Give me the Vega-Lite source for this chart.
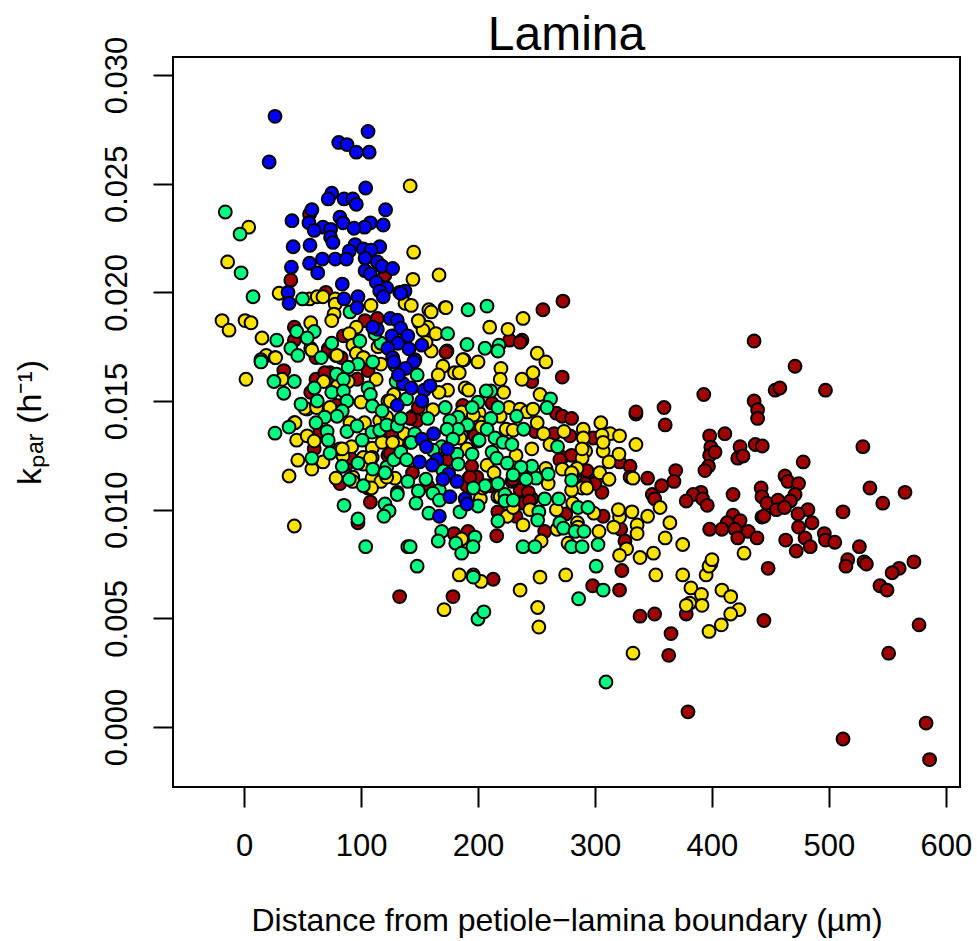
{"$schema":"https://vega.github.io/schema/vega-lite/v6.json","autosize":{"type":"none"},"width":787,"height":730,"padding":{"left":173,"top":57,"right":17,"bottom":154},"background":"white","title":{"text":"Lamina","font":"Liberation Sans","fontSize":48,"fontWeight":"normal","color":"black","anchor":"middle","offset":-24},"config":{"view":{"stroke":"black","strokeWidth":2}},"datasets":{"pts":[
{"s":"r","x":436,"y":0.01776},{"s":"r","x":471,"y":0.0166},{"s":"r","x":497,"y":0.0155},{"s":"r","x":454,"y":0.0155},{"s":"r","x":458,"y":0.0156},{"s":"r","x":393,"y":0.0153},{"s":"r","x":359,"y":0.0147},{"s":"r","x":335,"y":0.0144},{"s":"r","x":436,"y":0.015},{"s":"r","x":439,"y":0.0146},{"s":"r","x":439,"y":0.0142},{"s":"r","x":360,"y":0.0139},{"s":"r","x":398,"y":0.0134},{"s":"r","x":411,"y":0.0135},{"s":"r","x":437,"y":0.013},{"s":"r","x":443,"y":0.01293},{"s":"r","x":424,"y":0.0129},{"s":"r","x":529,"y":0.0129},{"s":"r","x":399,"y":0.01288},{"s":"r","x":422,"y":0.01237},{"s":"r","x":426.5,"y":0.01247},{"s":"r","x":398,"y":0.0125},{"s":"r","x":402.6,"y":0.01265},{"s":"r","x":478,"y":0.0122},{"s":"r","x":397,"y":0.012},{"s":"r","x":394,"y":0.0118},{"s":"r","x":369,"y":0.0118},{"s":"r","x":462.4,"y":0.01155},{"s":"r","x":465,"y":0.0113},{"s":"r","x":367.5,"y":0.0113},{"s":"r","x":357,"y":0.0111},{"s":"r","x":345,"y":0.01145},{"s":"r","x":474,"y":0.0112},{"s":"r","x":442,"y":0.011},{"s":"r","x":535,"y":0.011},{"s":"r","x":442.7,"y":0.0106},{"s":"r","x":565,"y":0.0108},{"s":"r","x":471,"y":0.0107},{"s":"r","x":467,"y":0.0104},{"s":"r","x":418,"y":0.0107},{"s":"r","x":390.6,"y":0.0108},{"s":"r","x":384,"y":0.0107},{"s":"r","x":392,"y":0.0105},{"s":"r","x":378,"y":0.0104},{"s":"r","x":396,"y":0.0102},{"s":"r","x":349,"y":0.0107},{"s":"r","x":351,"y":0.0105},{"s":"r","x":447,"y":0.0103},{"s":"r","x":456.4,"y":0.01044},{"s":"r","x":455,"y":0.01},{"s":"r","x":462,"y":0.0101},{"s":"r","x":546,"y":0.0103},{"s":"r","x":482,"y":0.01},{"s":"r","x":473.5,"y":0.0098},{"s":"r","x":512,"y":0.0099},{"s":"r","x":442.7,"y":0.00966},{"s":"r","x":444.4,"y":0.0097},{"s":"r","x":418,"y":0.00975},{"s":"r","x":424,"y":0.0095},{"s":"r","x":413,"y":0.0094},{"s":"r","x":398,"y":0.0091},{"s":"r","x":408.5,"y":0.0091},{"s":"r","x":419.7,"y":0.0091},{"s":"r","x":431,"y":0.009},{"s":"r","x":422,"y":0.0087},{"s":"r","x":438.5,"y":0.0087},{"s":"r","x":463,"y":0.0086},{"s":"r","x":474,"y":0.0092},{"s":"r","x":485.5,"y":0.0094},{"s":"r","x":479.5,"y":0.0087},{"s":"r","x":484,"y":0.0083},{"s":"r","x":472,"y":0.0081},{"s":"r","x":496,"y":0.0089},{"s":"r","x":497,"y":0.0086},{"s":"r","x":505,"y":0.0085},{"s":"r","x":526,"y":0.0083},{"s":"r","x":516,"y":0.0077},{"s":"r","x":514.5,"y":0.0074},{"s":"r","x":530,"y":0.0076},{"s":"r","x":532,"y":0.0075},{"s":"r","x":560,"y":0.0073},{"s":"r","x":554,"y":0.0071},{"s":"r","x":543.6,"y":0.0065},{"s":"r","x":549.6,"y":0.0063},{"s":"r","x":572.6,"y":0.0076},{"s":"r","x":448,"y":0.0073},{"s":"r","x":399,"y":0.0075},{"s":"r","x":444.4,"y":0.0049},{"s":"r","x":577,"y":0.0047},{"s":"r","x":551,"y":0.0034},{"s":"r","x":363,"y":0.0033},{"s":"r","x":365,"y":0.0043},{"s":"r","x":378,"y":0.0052},{"s":"r","x":338.5,"y":0.0051},{"s":"r","x":351,"y":0.0052},{"s":"r","x":379.5,"y":0.0007},{"s":"r","x":512,"y":-0.00055},{"s":"r","x":583,"y":0.00018},{"s":"r","x":586,"y":-0.0015},{"s":"r","x":298,"y":0.0065},{"s":"r","x":321,"y":0.0063},{"s":"r","x":323,"y":0.0072},{"s":"r","x":133,"y":0.006},{"s":"r","x":178.6,"y":0.006},{"s":"r","x":213,"y":0.0068},{"s":"r","x":255.5,"y":0.0192},{"s":"r","x":272.6,"y":0.0196},{"s":"r","x":272,"y":0.0161},{"s":"r","x":237.6,"y":0.0178},{"s":"r","x":227,"y":0.0178},{"s":"r","x":236,"y":0.0177},{"s":"r","x":246,"y":0.0159},{"s":"r","x":173.5,"y":0.0173},{"s":"r","x":335,"y":0.0145},{"s":"r","x":267,"y":0.01444},{"s":"r","x":272,"y":0.0143},{"s":"r","x":280,"y":0.0142},{"s":"r","x":249,"y":0.0136},{"s":"r","x":265,"y":0.0135},{"s":"r","x":298.5,"y":0.0133},{"s":"r","x":278.6,"y":0.0134},{"s":"r","x":272,"y":0.0124},{"s":"r","x":280,"y":0.0125},{"s":"r","x":321,"y":0.0122},{"s":"r","x":330,"y":0.012},{"s":"r","x":289,"y":0.0118},{"s":"r","x":294,"y":0.0117},{"s":"r","x":306,"y":0.0108},{"s":"r","x":246,"y":0.0105},{"s":"r","x":236,"y":0.0109},{"s":"r","x":243,"y":0.0108},{"s":"r","x":238.5,"y":0.0103},{"s":"r","x":217,"y":0.0099},{"s":"r","x":232.5,"y":0.0097},{"s":"r","x":257,"y":0.009},{"s":"r","x":275,"y":0.0098},{"s":"r","x":322,"y":0.0091},{"s":"r","x":325.6,"y":0.00856},{"s":"r","x":307,"y":0.0097},{"s":"r","x":216,"y":0.0088},{"s":"r","x":191.5,"y":0.009},{"s":"r","x":179.5,"y":0.0089},{"s":"r","x":194.6,"y":0.012},{"s":"r","x":229,"y":0.0113},{"s":"r","x":330,"y":0.0115},{"s":"r","x":300,"y":0.0112},{"s":"r","x":291.5,"y":0.0112},{"s":"r","x":40,"y":0.02056},{"s":"r","x":56,"y":0.0236},{"s":"r","x":120.5,"y":0.0208},{"s":"r","x":70,"y":0.02},{"s":"r","x":133,"y":0.02},{"s":"r","x":103.4,"y":0.0187},{"s":"r","x":114,"y":0.0188},{"s":"r","x":43,"y":0.0184},{"s":"r","x":43,"y":0.0178},{"s":"r","x":85,"y":0.018},{"s":"r","x":172.6,"y":0.01725},{"s":"r","x":72,"y":0.0174},{"s":"r","x":83,"y":0.017},{"s":"r","x":34,"y":0.0164},{"s":"r","x":61.5,"y":0.016},{"s":"r","x":57,"y":0.0154},{"s":"r","x":73.5,"y":0.0163},{"s":"r","x":96.6,"y":0.016},{"s":"r","x":106,"y":0.0164},{"s":"r","x":79.5,"y":0.0148},{"s":"r","x":65,"y":0.0136},{"s":"r","x":60,"y":0.0128},{"s":"r","x":126.5,"y":0.0135},{"s":"r","x":108,"y":0.01035},{"s":"r","x":88,"y":0.0121},{"s":"r","x":123,"y":0.0125},{"s":"r","x":82,"y":0.0112},{"s":"r","x":72,"y":0.0173},{"s":"r","x":61.5,"y":0.017},{"s":"r","x":144.5,"y":0.0143},{"s":"r","x":131,"y":0.0108},{"s":"r","x":97.4,"y":0.0094},{"s":"r","x":149,"y":0.0147},{"s":"r","x":143.5,"y":0.0142},{"s":"r","x":148,"y":0.0141},{"s":"r","x":187,"y":0.0148},{"s":"r","x":212,"y":0.0149},{"s":"r","x":197.4,"y":0.0134},{"s":"r","x":174,"y":0.0123},{"s":"r","x":144,"y":0.0117},{"s":"r","x":157,"y":0.0111},{"s":"r","x":191.5,"y":0.0114},{"s":"r","x":199,"y":0.0115},{"s":"r","x":210,"y":0.0111},{"s":"r","x":90.6,"y":0.0124},{"s":"r","x":125,"y":0.0126},{"s":"r","x":76,"y":0.0158},{"s":"r","x":142,"y":0.0142},{"s":"r","x":69,"y":0.0163},{"s":"r","x":190.6,"y":0.0111},{"s":"r","x":193,"y":0.0115},{"s":"r","x":230,"y":0.0114},{"s":"r","x":244,"y":0.0104},{"s":"r","x":293,"y":0.0118},{"s":"r","x":270,"y":0.0123},
{"s":"y","x":142,"y":0.0249},{"s":"y","x":4,"y":0.023},{"s":"y","x":-14,"y":0.0214},{"s":"y","x":145,"y":0.02185},{"s":"y","x":166.7,"y":0.0208},{"s":"y","x":144.4,"y":0.0206},{"s":"y","x":30,"y":0.01996},{"s":"y","x":56,"y":0.0197},{"s":"y","x":62.6,"y":0.0198},{"s":"y","x":67.5,"y":0.0198},{"s":"y","x":78,"y":0.0197},{"s":"y","x":78,"y":0.01946},{"s":"y","x":108.5,"y":0.0194},{"s":"y","x":137.6,"y":0.0195},{"s":"y","x":143,"y":0.0194},{"s":"y","x":77,"y":0.019},{"s":"y","x":75,"y":0.0187},{"s":"y","x":158,"y":0.0192},{"s":"y","x":160,"y":0.0191},{"s":"y","x":172,"y":0.0193},{"s":"y","x":-18.8,"y":0.0187},{"s":"y","x":-12.8,"y":0.01826},{"s":"y","x":0.9,"y":0.0187},{"s":"y","x":6,"y":0.0186},{"s":"y","x":15.4,"y":0.0179},{"s":"y","x":57,"y":0.0186},{"s":"y","x":96,"y":0.0184},{"s":"y","x":90,"y":0.0181},{"s":"y","x":150,"y":0.0186},{"s":"y","x":157,"y":0.0184},{"s":"y","x":153,"y":0.01826},{"s":"y","x":164,"y":0.0181},{"s":"y","x":160,"y":0.0173},{"s":"y","x":155.6,"y":0.0177},{"s":"y","x":57,"y":0.01743},{"s":"y","x":78.6,"y":0.0171},{"s":"y","x":93,"y":0.01757},{"s":"y","x":114.5,"y":0.0175},{"s":"y","x":19,"y":0.0171},{"s":"y","x":26.5,"y":0.017},{"s":"y","x":188,"y":0.0169},{"s":"y","x":102,"y":0.017},{"s":"y","x":1.7,"y":0.016},{"s":"y","x":27,"y":0.017},{"s":"y","x":32.5,"y":0.016},{"s":"y","x":68,"y":0.0159},{"s":"y","x":113,"y":0.016},{"s":"y","x":100,"y":0.01495},{"s":"y","x":54,"y":0.01463},{"s":"y","x":128,"y":0.0153},{"s":"y","x":43,"y":0.014},{"s":"y","x":45,"y":0.0132},{"s":"y","x":54,"y":0.0134},{"s":"y","x":60,"y":0.01316},{"s":"y","x":92,"y":0.0129},{"s":"y","x":109.6,"y":0.01283},{"s":"y","x":118,"y":0.0131},{"s":"y","x":130.8,"y":0.0131},{"s":"y","x":84.6,"y":0.01247},{"s":"y","x":46,"y":0.01228},{"s":"y","x":67.5,"y":0.0122},{"s":"y","x":58,"y":0.01187},{"s":"y","x":38.5,"y":0.01155},{"s":"y","x":78.6,"y":0.01145},{"s":"y","x":109.4,"y":0.01145},{"s":"y","x":129,"y":0.01145},{"s":"y","x":117,"y":0.0113},{"s":"y","x":106,"y":0.011},{"s":"y","x":43,"y":0.00925},{"s":"y","x":109.6,"y":0.0124},{"s":"y","x":102,"y":0.0124},{"s":"y","x":90.6,"y":0.014},{"s":"y","x":103,"y":0.014},{"s":"y","x":137,"y":0.0135},{"s":"y","x":118,"y":0.0142},{"s":"y","x":123,"y":0.015},{"s":"y","x":79.5,"y":0.0171},{"s":"y","x":58,"y":0.01734},{"s":"y","x":96,"y":0.0172},{"s":"y","x":102,"y":0.017},{"s":"y","x":117,"y":0.0167},{"s":"y","x":82,"y":0.0128},{"s":"y","x":93,"y":0.01145},{"s":"y","x":172.6,"y":0.0193},{"s":"y","x":238.5,"y":0.0188},{"s":"y","x":210,"y":0.0184},{"s":"y","x":225.6,"y":0.0183},{"s":"y","x":149,"y":0.0187},{"s":"y","x":187,"y":0.0169},{"s":"y","x":200,"y":0.0168},{"s":"y","x":250.6,"y":0.0172},{"s":"y","x":258,"y":0.0168},{"s":"y","x":219.6,"y":0.0165},{"s":"y","x":219,"y":0.016},{"s":"y","x":247,"y":0.0163},{"s":"y","x":237.6,"y":0.016},{"s":"y","x":170,"y":0.0166},{"s":"y","x":180,"y":0.0163},{"s":"y","x":184,"y":0.0163},{"s":"y","x":166,"y":0.0162},{"s":"y","x":174,"y":0.0155},{"s":"y","x":166.7,"y":0.0154},{"s":"y","x":189,"y":0.0156},{"s":"y","x":192,"y":0.0155},{"s":"y","x":222,"y":0.0154},{"s":"y","x":253,"y":0.0153},{"s":"y","x":226.5,"y":0.0147},{"s":"y","x":236,"y":0.01463},{"s":"y","x":242,"y":0.0145},{"s":"y","x":247,"y":0.01463},{"s":"y","x":201,"y":0.01444},{"s":"y","x":305,"y":0.014},{"s":"y","x":290,"y":0.0137},{"s":"y","x":313,"y":0.0135},{"s":"y","x":321,"y":0.0134},{"s":"y","x":306,"y":0.01343},{"s":"y","x":335,"y":0.013},{"s":"y","x":250.6,"y":0.014},{"s":"y","x":256,"y":0.0135},{"s":"y","x":273.5,"y":0.0136},{"s":"y","x":224,"y":0.0137},{"s":"y","x":202,"y":0.014},{"s":"y","x":261.5,"y":0.013},{"s":"y","x":246,"y":0.0128},{"s":"y","x":232.5,"y":0.0125},{"s":"y","x":207.7,"y":0.01205},{"s":"y","x":292,"y":0.0127},{"s":"y","x":307,"y":0.0127},{"s":"y","x":289,"y":0.01237},{"s":"y","x":320.5,"y":0.01256},{"s":"y","x":312,"y":0.0122},{"s":"y","x":272,"y":0.01187},{"s":"y","x":284.6,"y":0.0119},{"s":"y","x":304,"y":0.0117},{"s":"y","x":312,"y":0.0114},{"s":"y","x":281,"y":0.0116},{"s":"y","x":289,"y":0.011},{"s":"y","x":280,"y":0.0109},{"s":"y","x":332.5,"y":0.01145},{"s":"y","x":258,"y":0.0119},{"s":"y","x":213.7,"y":0.0117},{"s":"y","x":260,"y":0.0112},{"s":"y","x":321,"y":0.00966},{"s":"y","x":320,"y":0.01},{"s":"y","x":331.6,"y":0.0099},{"s":"y","x":336,"y":0.0093},{"s":"y","x":299,"y":0.00984},{"s":"y","x":267,"y":0.01},{"s":"y","x":244.4,"y":0.01},{"s":"y","x":225,"y":0.0097},{"s":"y","x":238.5,"y":0.0093},{"s":"y","x":285,"y":0.0094},{"s":"y","x":267.5,"y":0.0091},{"s":"y","x":303.4,"y":0.009},{"s":"y","x":254,"y":0.00856},{"s":"y","x":277,"y":0.00846},{"s":"y","x":186,"y":0.00865},{"s":"y","x":202,"y":0.0105},{"s":"y","x":217,"y":0.0106},{"s":"y","x":230,"y":0.0101},{"s":"y","x":327,"y":0.0082},{"s":"y","x":336,"y":0.0089},{"s":"y","x":355.6,"y":0.0101},{"s":"y","x":345,"y":0.0097},{"s":"y","x":364,"y":0.0094},{"s":"y","x":360,"y":0.0087},{"s":"y","x":350,"y":0.008},{"s":"y","x":338.5,"y":0.0078},{"s":"y","x":321,"y":0.0079},{"s":"y","x":375,"y":0.0084},{"s":"y","x":352,"y":0.007},{"s":"y","x":375,"y":0.007},{"s":"y","x":395,"y":0.007},{"s":"y","x":382,"y":0.0064},{"s":"y","x":381,"y":0.0057},{"s":"y","x":378,"y":0.0056},{"s":"y","x":391,"y":0.0061},{"s":"y","x":391.5,"y":0.0056},{"s":"y","x":397.5,"y":0.0074},{"s":"y","x":400,"y":0.0077},{"s":"y","x":408.5,"y":0.0063},{"s":"y","x":416,"y":0.006},{"s":"y","x":427.4,"y":0.008},{"s":"y","x":423,"y":0.0054},{"s":"y","x":416,"y":0.0052},{"s":"y","x":397.5,"y":0.0044},{"s":"y","x":408,"y":0.0047},{"s":"y","x":332.5,"y":0.0034},{"s":"y","x":236,"y":0.0063},{"s":"y","x":251,"y":0.0055},{"s":"y","x":252,"y":0.0046},{"s":"y","x":253,"y":0.0069},{"s":"y","x":275,"y":0.007},{"s":"y","x":171,"y":0.0054},{"s":"y","x":184,"y":0.007},{"s":"y","x":196,"y":0.007},{"s":"y","x":202.6,"y":0.0067},{"s":"y","x":316,"y":0.0092},{"s":"y","x":186,"y":0.0145},{"s":"y","x":196,"y":0.01435},{"s":"y","x":161.5,"y":0.0146},{"s":"y","x":186,"y":0.0134},{"s":"y","x":203,"y":0.0138},{"s":"y","x":219,"y":0.0143},{"s":"y","x":230,"y":0.01366},{"s":"y","x":190.6,"y":0.0128},{"s":"y","x":200,"y":0.01316},{"s":"y","x":184.6,"y":0.0133},{"s":"y","x":219,"y":0.0106},{"s":"y","x":204,"y":0.011},{"s":"y","x":290,"y":0.0133},{"s":"y","x":307,"y":0.0131},{"s":"y","x":289,"y":0.0128},{"s":"y","x":293,"y":0.011},{"s":"y","x":280,"y":0.0117},{"s":"y","x":281,"y":0.0103},{"s":"y","x":285.5,"y":0.0092},{"s":"y","x":102,"y":0.0121},{"s":"y","x":84,"y":0.0128},{"s":"y","x":108,"y":0.01237},{"s":"y","x":93,"y":0.0115},{"s":"y","x":116,"y":0.0141},{"s":"y","x":122,"y":0.01426},{"s":"y","x":125,"y":0.015},{"s":"y","x":52,"y":0.01467},{"s":"y","x":43.6,"y":0.014},{"s":"y","x":62,"y":0.0147},{"s":"y","x":73.5,"y":0.0147},{"s":"y","x":80,"y":0.0157},{"s":"y","x":89,"y":0.0159},{"s":"y","x":127,"y":0.0131},{"s":"y","x":93,"y":0.0113},{"s":"y","x":109,"y":0.011},{"s":"y","x":131,"y":0.0124},{"s":"y","x":122,"y":0.0115},
{"s":"g","x":-16,"y":0.0237},{"s":"g","x":-3.4,"y":0.02268},{"s":"g","x":-2.5,"y":0.0209},{"s":"g","x":7.7,"y":0.0198},{"s":"g","x":50,"y":0.0197},{"s":"g","x":90.6,"y":0.0191},{"s":"g","x":191.5,"y":0.0192},{"s":"g","x":174,"y":0.0181},{"s":"g","x":190.6,"y":0.0176},{"s":"g","x":28,"y":0.0178},{"s":"g","x":45,"y":0.0182},{"s":"g","x":60,"y":0.0182},{"s":"g","x":54,"y":0.0179},{"s":"g","x":40,"y":0.01743},{"s":"g","x":46,"y":0.0171},{"s":"g","x":75,"y":0.01766},{"s":"g","x":99,"y":0.01776},{"s":"g","x":14.5,"y":0.0169},{"s":"g","x":66,"y":0.017},{"s":"g","x":117,"y":0.01766},{"s":"g","x":112,"y":0.0181},{"s":"g","x":14.5,"y":0.0168},{"s":"g","x":97.4,"y":0.0167},{"s":"g","x":110,"y":0.0168},{"s":"g","x":89,"y":0.01656},{"s":"g","x":25.6,"y":0.0159},{"s":"g","x":43,"y":0.0159},{"s":"g","x":34,"y":0.01536},{"s":"g","x":79,"y":0.01624},{"s":"g","x":85,"y":0.016},{"s":"g","x":60,"y":0.0156},{"s":"g","x":75,"y":0.0154},{"s":"g","x":85,"y":0.01546},{"s":"g","x":88,"y":0.015},{"s":"g","x":62.6,"y":0.015},{"s":"g","x":106,"y":0.0156},{"s":"g","x":108,"y":0.0153},{"s":"g","x":48.7,"y":0.01486},{"s":"g","x":84,"y":0.01454},{"s":"g","x":79.5,"y":0.0143},{"s":"g","x":69,"y":0.01426},{"s":"g","x":109.6,"y":0.01477},{"s":"g","x":118,"y":0.01454},{"s":"g","x":61.5,"y":0.014},{"s":"g","x":26.5,"y":0.01352},{"s":"g","x":38.5,"y":0.0138},{"s":"g","x":71,"y":0.0136},{"s":"g","x":72,"y":0.0132},{"s":"g","x":88,"y":0.0136},{"s":"g","x":96.6,"y":0.01385},{"s":"g","x":109.4,"y":0.01357},{"s":"g","x":116,"y":0.01366},{"s":"g","x":122,"y":0.0139},{"s":"g","x":131,"y":0.01385},{"s":"g","x":134,"y":0.0142},{"s":"g","x":101,"y":0.0132},{"s":"g","x":73.5,"y":0.0126},{"s":"g","x":58,"y":0.01237},{"s":"g","x":84,"y":0.012},{"s":"g","x":97.4,"y":0.01214},{"s":"g","x":110,"y":0.01187},{"s":"g","x":122,"y":0.01196},{"s":"g","x":128,"y":0.0123},{"s":"g","x":134,"y":0.01265},{"s":"g","x":142,"y":0.0131},{"s":"g","x":139,"y":0.0123},{"s":"g","x":90,"y":0.0114},{"s":"g","x":102,"y":0.0111},{"s":"g","x":120.5,"y":0.0117},{"s":"g","x":131,"y":0.0107},{"s":"g","x":140,"y":0.0113},{"s":"g","x":85.5,"y":0.0102},{"s":"g","x":120.5,"y":0.01026},{"s":"g","x":124,"y":0.00994},{"s":"g","x":119.6,"y":0.0097},{"s":"g","x":97.4,"y":0.00957},{"s":"g","x":104,"y":0.0083},{"s":"g","x":140,"y":0.0083},{"s":"g","x":129,"y":0.01665},{"s":"g","x":130,"y":0.0159},{"s":"g","x":139,"y":0.0151},{"s":"g","x":207.7,"y":0.01937},{"s":"g","x":206,"y":0.01743},{"s":"g","x":218,"y":0.01757},{"s":"g","x":217,"y":0.0173},{"s":"g","x":262,"y":0.0151},{"s":"g","x":259,"y":0.0147},{"s":"g","x":211,"y":0.01546},{"s":"g","x":207,"y":0.01546},{"s":"g","x":200,"y":0.01495},{"s":"g","x":195,"y":0.0147},{"s":"g","x":217,"y":0.0147},{"s":"g","x":172,"y":0.0147},{"s":"g","x":183,"y":0.01426},{"s":"g","x":176,"y":0.0141},{"s":"g","x":157,"y":0.0142},{"s":"g","x":148,"y":0.0162},{"s":"g","x":211,"y":0.0142},{"s":"g","x":233,"y":0.0143},{"s":"g","x":239,"y":0.0137},{"s":"g","x":191,"y":0.0139},{"s":"g","x":183,"y":0.0137},{"s":"g","x":173.5,"y":0.0137},{"s":"g","x":207.7,"y":0.0137},{"s":"g","x":146,"y":0.0135},{"s":"g","x":143,"y":0.0131},{"s":"g","x":178.6,"y":0.01325},{"s":"g","x":201,"y":0.0132},{"s":"g","x":214.5,"y":0.0133},{"s":"g","x":221.4,"y":0.0131},{"s":"g","x":229,"y":0.013},{"s":"g","x":268,"y":0.0129},{"s":"g","x":169,"y":0.0129},{"s":"g","x":161.5,"y":0.01274},{"s":"g","x":212,"y":0.01265},{"s":"g","x":182,"y":0.01256},{"s":"g","x":195,"y":0.01256},{"s":"g","x":216,"y":0.01237},{"s":"g","x":183,"y":0.0121},{"s":"g","x":225,"y":0.01214},{"s":"g","x":246,"y":0.012},{"s":"g","x":236.7,"y":0.01196},{"s":"g","x":260,"y":0.01164},{"s":"g","x":230,"y":0.0116},{"s":"g","x":249.6,"y":0.01145},{"s":"g","x":241,"y":0.0114},{"s":"g","x":280,"y":0.01136},{"s":"g","x":217,"y":0.0112},{"s":"g","x":206,"y":0.0111},{"s":"g","x":196,"y":0.011},{"s":"g","x":170,"y":0.0118},{"s":"g","x":155.5,"y":0.0114},{"s":"g","x":149,"y":0.01086},{"s":"g","x":167,"y":0.0109},{"s":"g","x":161.5,"y":0.01076},{"s":"g","x":167,"y":0.01044},{"s":"g","x":147,"y":0.0103},{"s":"g","x":200,"y":0.01017},{"s":"g","x":184.6,"y":0.0099},{"s":"g","x":158,"y":0.00984},{"s":"g","x":223,"y":0.0107},{"s":"g","x":223,"y":0.0104},{"s":"g","x":230,"y":0.01044},{"s":"g","x":257,"y":0.0105},{"s":"g","x":269,"y":0.0105},{"s":"g","x":285.5,"y":0.0101},{"s":"g","x":294,"y":0.0101},{"s":"g","x":252,"y":0.0099},{"s":"g","x":251,"y":0.00952},{"s":"g","x":217,"y":0.00948},{"s":"g","x":270,"y":0.0094},{"s":"g","x":273,"y":0.00915},{"s":"g","x":283,"y":0.009},{"s":"g","x":290.6,"y":0.009},{"s":"g","x":169,"y":0.009},{"s":"g","x":166,"y":0.00856},{"s":"g","x":197.4,"y":0.00874},{"s":"g","x":181,"y":0.00846},{"s":"g","x":195.7,"y":0.0083},{"s":"g","x":142,"y":0.0083},{"s":"g","x":238.5,"y":0.0083},{"s":"g","x":248.7,"y":0.0083},{"s":"g","x":280,"y":0.0083},{"s":"g","x":302.6,"y":0.0084},{"s":"g","x":289,"y":0.0083},{"s":"g","x":309.4,"y":0.00207},{"s":"g","x":200,"y":0.00497},{"s":"g","x":205,"y":0.0053},{"s":"g","x":286,"y":0.0059},{"s":"g","x":307,"y":0.0063},{"s":"g","x":301,"y":0.0074},{"s":"g","x":148,"y":0.0074},{"s":"g","x":186,"y":0.008},{"s":"g","x":196,"y":0.0069},
{"s":"b","x":26.5,"y":0.0281},{"s":"b","x":106,"y":0.0274},{"s":"b","x":81,"y":0.0269},{"s":"b","x":88,"y":0.0268},{"s":"b","x":96,"y":0.02645},{"s":"b","x":107,"y":0.02645},{"s":"b","x":21.5,"y":0.026},{"s":"b","x":104,"y":0.0248},{"s":"b","x":75,"y":0.02456},{"s":"b","x":72,"y":0.0243},{"s":"b","x":85.5,"y":0.0243},{"s":"b","x":93,"y":0.0243},{"s":"b","x":96,"y":0.02405},{"s":"b","x":58,"y":0.0238},{"s":"b","x":121,"y":0.0238},{"s":"b","x":41,"y":0.0233},{"s":"b","x":55.5,"y":0.0232},{"s":"b","x":82,"y":0.02346},{"s":"b","x":84.6,"y":0.0232},{"s":"b","x":108,"y":0.0232},{"s":"b","x":119,"y":0.0231},{"s":"b","x":103,"y":0.023},{"s":"b","x":94,"y":0.02295},{"s":"b","x":67.5,"y":0.023},{"s":"b","x":74,"y":0.0229},{"s":"b","x":60,"y":0.02285},{"s":"b","x":74,"y":0.02254},{"s":"b","x":76,"y":0.0223},{"s":"b","x":42,"y":0.0221},{"s":"b","x":56.4,"y":0.02217},{"s":"b","x":95,"y":0.0222},{"s":"b","x":116,"y":0.0221},{"s":"b","x":102,"y":0.022},{"s":"b","x":108.5,"y":0.02194},{"s":"b","x":90,"y":0.0219},{"s":"b","x":67,"y":0.02153},{"s":"b","x":78,"y":0.02153},{"s":"b","x":87.5,"y":0.02153},{"s":"b","x":103.5,"y":0.02157},{"s":"b","x":56,"y":0.02134},{"s":"b","x":114,"y":0.0214},{"s":"b","x":118,"y":0.0212},{"s":"b","x":40.5,"y":0.02116},{"s":"b","x":127,"y":0.0211},{"s":"b","x":63,"y":0.0209},{"s":"b","x":103.5,"y":0.021},{"s":"b","x":108,"y":0.02084},{"s":"b","x":113,"y":0.02047},{"s":"b","x":84,"y":0.02038},{"s":"b","x":122,"y":0.0202},{"s":"b","x":116,"y":0.02006},{"s":"b","x":137.6,"y":0.02006},{"s":"b","x":134,"y":0.01996},{"s":"b","x":119,"y":0.0198},{"s":"b","x":37.6,"y":0.02},{"s":"b","x":38.5,"y":0.0195},{"s":"b","x":97.4,"y":0.0198},{"s":"b","x":85.5,"y":0.0197},{"s":"b","x":96.6,"y":0.0193},{"s":"b","x":125,"y":0.0188},{"s":"b","x":131,"y":0.01872},{"s":"b","x":134,"y":0.01835},{"s":"b","x":114,"y":0.0183},{"s":"b","x":110,"y":0.0184},{"s":"b","x":126.5,"y":0.018},{"s":"b","x":140,"y":0.018},{"s":"b","x":131.6,"y":0.01766},{"s":"b","x":123,"y":0.01743},{"s":"b","x":141,"y":0.0174},{"s":"b","x":152,"y":0.01757},{"s":"b","x":127,"y":0.017},{"s":"b","x":146,"y":0.0169},{"s":"b","x":145,"y":0.0168},{"s":"b","x":138,"y":0.0165},{"s":"b","x":136,"y":0.0158},{"s":"b","x":143,"y":0.0156},{"s":"b","x":154,"y":0.0155},{"s":"b","x":159,"y":0.0157},{"s":"b","x":152,"y":0.015},{"s":"b","x":162,"y":0.0135},{"s":"b","x":152,"y":0.01325},{"s":"b","x":156,"y":0.0129},{"s":"b","x":174,"y":0.0128},{"s":"b","x":150,"y":0.0122},{"s":"b","x":165,"y":0.0123},{"s":"b","x":161,"y":0.01205},{"s":"b","x":175,"y":0.01164},{"s":"b","x":170,"y":0.0114},{"s":"b","x":182,"y":0.0113},{"s":"b","x":176,"y":0.0106},{"s":"b","x":189,"y":0.0105},{"s":"b","x":190.6,"y":0.01026},{"s":"b","x":167,"y":0.0097},{"s":"b","x":128,"y":0.0168},{"s":"b","x":131,"y":0.0148},{"s":"b","x":132,"y":0.0162}
]},"data":{"name":"pts"},"mark":{"type":"point","filled":false,"shape":"circle","opacity":1,"strokeWidth":2,"stroke":"black","size":165,"clip":true},"encoding":{"x":{"field":"x","type":"quantitative","scale":{"domain":[-60.7,612],"nice":false,"zero":false},"axis":{"values":[0,100,200,300,400,500,600],"title":"Distance from petiole−lamina boundary (µm)","grid":false,"domain":false,"tickColor":"black","tickWidth":2,"tickSize":20,"labelFont":"Liberation Sans","labelFontSize":31,"labelColor":"black","labelPadding":24,"titleFont":"Liberation Sans","titleFontSize":32,"titleFontWeight":"normal","titleColor":"black","titlePadding":44}},"y":{"field":"y","type":"quantitative","scale":{"domain":[-0.00276,0.03083],"nice":false,"zero":false},"axis":{"values":[0,0.005,0.01,0.015,0.02,0.025,0.03],"format":".3f","title":"kₚₐᵣ (h⁻¹)","grid":false,"domain":false,"tickColor":"black","tickWidth":2,"tickSize":20,"labelAngle":-90,"labelAlign":"center","labelBaseline":"bottom","labelFont":"Liberation Sans","labelFontSize":31,"labelColor":"black","labelPadding":20,"titleFont":"Liberation Sans","titleFontSize":34,"titleFontWeight":"normal","titleColor":"black","titlePadding":54}},"fill":{"field":"s","type":"nominal","legend":null,"sort":null,"scale":{"domain":["r","y","g","b"],"range":["#A00000","#FFE300","#00FF80","#0000FF"]}}}}
